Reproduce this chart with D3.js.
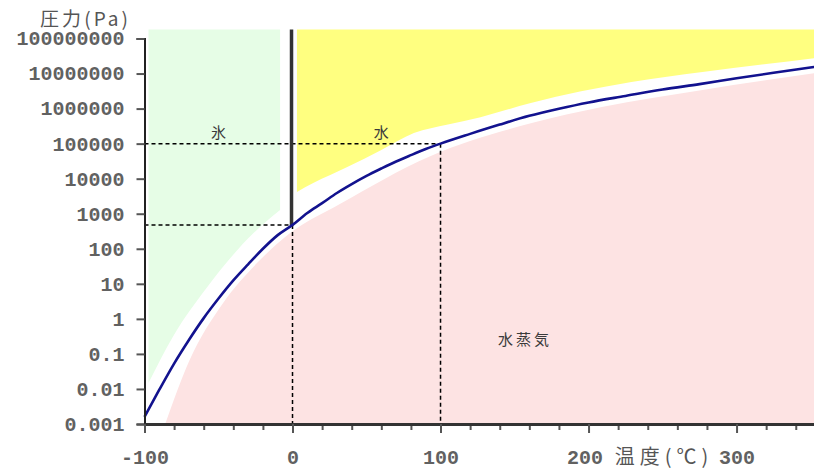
<!DOCTYPE html>
<html><head><meta charset="utf-8">
<script src="https://cdn.jsdelivr.net/npm/d3@7"></script>
<style>body{margin:0;background:#fff;} svg{display:block}</style>
</head><body>
<svg id="chart" width="814" height="474"></svg>
<script>
// ---- data ----
const curveT = [-100, -90, -80, -70, -60, -50, -40, -30, -20, -10, 0, 10, 20, 30, 40, 50, 60, 70, 80, 90, 100, 120, 140, 160, 180, 200, 225, 250, 275, 300, 325, 353];
const curveP = [0.0016, 0.0095, 0.053, 0.25, 1.05, 3.8, 12.5, 36, 100, 245, 480, 1050, 2000, 3900, 7000, 12000, 19500, 31000, 47000, 70000, 100000, 190000, 350000, 620000, 990000, 1500000, 2300000, 3500000, 5000000, 7300000, 10500000, 15500000];

const iceEdgeT = [-97.3, -80.8, -58.1, -26.5, -8.4];
const iceEdgeP = [0.0148, 0.31, 7.6, 276, 1276];

const waterEdgeT = [3, 14, 37, 60, 82, 105, 127, 161, 229, 277, 353];
const waterEdgeP = [4200, 7500, 21500, 66000, 200000, 350000, 570000, 1440000, 5700000, 11000000, 27700000];

const vaporEdgeT = [-86, -69.5, -47, -24, -1.6, 32, 93, 161, 209, 277, 353];
const vaporEdgeP = [0.001, 0.067, 2.8, 39, 280, 1900, 44000, 380000, 1110000, 3400000, 10300000];

const yTickValues = [1e-3, 1e-2, 1e-1, 1, 1e1, 1e2, 1e3, 1e4, 1e5, 1e6, 1e7, 1e8];
const yTickLabels = ["0.001", "0.01", "0.1", "1", "10", "100", "1000", "10000", "100000", "1000000", "10000000", "100000000"];
const xMajorTicks = [-100, 0, 100, 200, 300];
const xTickLabels = ["-100", "0", "100", "200", "300"];
const xMinorTicks = [-80, -60, -40, -20, 20, 40, 60, 80, 120, 140, 160, 180, 220, 240, 260, 280, 320, 340];

const triplePoint = {T: 0, P: 480};
const boilingPoint = {T: 100, P: 100000};

const regionNames = ["氷", "水", "水蒸気"];
const regionLabelT = [-50, 60, 157];
const regionLabelP = [200000, 200000, 0.25];

const yAxisTitle = "圧力(Pa)";
const xAxisTitle = "温度(℃)";

// ---- layout ----
const plotLeft = 144.5, plotRight = 815, plotTop = 29.5, plotBottom = 424;
const svg = d3.select("#chart");

const x = d3.scaleLinear().domain([-100, 353]).range([plotLeft, plotRight]);
const y = d3.scaleLog().domain([1e-3, 1e8]).range([plotBottom, 38.5]);

const zip = (T, P) => T.map((t, i) => ({T: t, P: P[i]}));
const curve = zip(curveT, curveP);
const iceEdge = zip(iceEdgeT, iceEdgeP);
const waterEdge = zip(waterEdgeT, waterEdgeP);
const vaporEdge = zip(vaporEdgeT, vaporEdgeP);

const areaAbove = d3.area().x(d => x(d.T)).y0(plotTop).y1(d => y(d.P)).curve(d3.curveMonotoneX);
const areaBelow = d3.area().x(d => x(d.T)).y0(plotBottom).y1(d => y(d.P)).curve(d3.curveMonotoneX);

svg.append("path").datum(vaporEdge).attr("d", areaBelow).attr("fill", "#fde3e3");
svg.append("path").datum(iceEdge).attr("d", areaAbove).attr("fill", "#e6fde6");
svg.append("path").datum(waterEdge).attr("d", areaAbove).attr("fill", "#ffff80");

// dashed guide lines
const dash = svg.append("g").attr("stroke", "#000").attr("stroke-width", 1.5).attr("stroke-dasharray", "4,3").attr("fill", "none");
dash.append("line").attr("x1", x(-100)).attr("x2", x(boilingPoint.T)).attr("y1", y(boilingPoint.P)).attr("y2", y(boilingPoint.P));
dash.append("line").attr("x1", x(boilingPoint.T)).attr("x2", x(boilingPoint.T)).attr("y1", y(boilingPoint.P)).attr("y2", plotBottom);
dash.append("line").attr("x1", x(-100)).attr("x2", x(triplePoint.T)).attr("y1", y(triplePoint.P)).attr("y2", y(triplePoint.P));
dash.append("line").attr("x1", x(triplePoint.T)).attr("x2", x(triplePoint.T)).attr("y1", y(triplePoint.P)).attr("y2", plotBottom);

// melting line (solid, vertical)
svg.append("line").attr("x1", x(triplePoint.T) - 1).attr("x2", x(triplePoint.T) - 1)
  .attr("y1", plotTop).attr("y2", y(triplePoint.P))
  .attr("stroke", "#333").attr("stroke-width", 3.5);

// vapor pressure curve
svg.append("path").datum(curve)
  .attr("d", d3.line().x(d => x(d.T)).y(d => y(d.P)).curve(d3.curveMonotoneX))
  .attr("fill", "none").attr("stroke", "#12128e").attr("stroke-width", 2.6);

// region labels
svg.append("g").selectAll("text").data(regionNames).join("text")
  .attr("x", (d, i) => x(regionLabelT[i])).attr("y", (d, i) => y(regionLabelP[i]))
  .attr("dy", "0.36em").attr("text-anchor", "middle")
  .attr("font-family", "'Noto Sans CJK JP'").attr("font-size", 15)
  .attr("letter-spacing", (d, i) => i === 2 ? 3 : 0)
  .attr("fill", "#3a3a3a").text(d => d);

// axes
const fontNum = "'Liberation Mono', monospace";
const yAxis = d3.axisLeft(y).tickValues(yTickValues).tickFormat((d, i) => yTickLabels[i]).tickSize(8).tickPadding(12);
const gy = svg.append("g").attr("transform", `translate(${plotLeft},0)`).call(yAxis);
gy.select(".domain").attr("stroke", "#222").attr("stroke-width", 2);
gy.selectAll(".tick line").attr("stroke", "#555").attr("stroke-width", 2);
gy.selectAll(".tick text").attr("font-family", fontNum).attr("font-size", 20).attr("font-weight", "bold").attr("fill", "#616161");

const gxMinor = svg.append("g").attr("transform", `translate(0,${plotBottom})`)
  .call(d3.axisBottom(x).tickValues(xMinorTicks).tickSize(6).tickFormat(""));
gxMinor.select(".domain").remove();
gxMinor.selectAll(".tick line").attr("stroke", "#555").attr("stroke-width", 2);

const gx = svg.append("g").attr("transform", `translate(0,${plotBottom})`)
  .call(d3.axisBottom(x).tickValues(xMajorTicks).tickFormat((d, i) => xTickLabels[i]).tickSize(9).tickSizeOuter(0));
gx.select(".domain").attr("stroke", "#333").attr("stroke-width", 3);
gx.selectAll(".tick line").attr("stroke", "#555").attr("stroke-width", 2);
gx.selectAll(".tick text").attr("y", 40).attr("dy", 0).attr("dx", (d, i) => i === 3 ? -4 : 0)
  .attr("font-family", fontNum).attr("font-size", 20).attr("font-weight", "bold").attr("fill", "#616161");

// axis titles
svg.append("text").attr("x", 40).attr("y", 26).attr("font-family", "'Noto Sans CJK JP'")
  .attr("font-size", 19).attr("fill", "#555").attr("textLength", 88).attr("lengthAdjust", "spacing").text(yAxisTitle);
svg.append("text").attr("x", 664).attr("y", 464).attr("text-anchor", "middle").attr("font-family", "'Noto Sans CJK JP'")
  .attr("font-size", 20).attr("letter-spacing", 5).attr("fill", "#555").text(xAxisTitle);
</script>
</body></html>
